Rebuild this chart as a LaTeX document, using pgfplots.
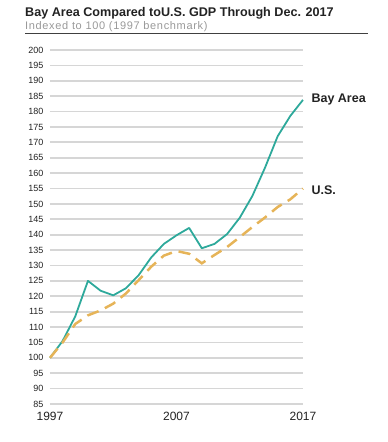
\documentclass[border=0pt]{standalone}
\usepackage{pgfplots}
\pgfplotsset{compat=1.18}
\usepackage{fontspec}
\setmainfont{Liberation Sans}
\definecolor{teal1}{HTML}{2EA99B}
\definecolor{gold1}{HTML}{E6B458}
\definecolor{grid1}{HTML}{D6D6D6}
\definecolor{txt1}{HTML}{222222}
\begin{document}
\begin{tikzpicture}[x=1pt,y=1pt]
\path[use as bounding box] (0,0) rectangle (388,442);
\begin{axis}[
  at={(50pt,38pt)}, anchor=south west,
  scale only axis, width=253pt, height=354pt,
  xmin=1997, xmax=2017, ymin=85, ymax=200,
  xtick={1997,2007,2017},
  ytick={85,90,...,200},
  axis line style={draw=none},
  major tick length=0pt,
  ymajorgrids, grid style={grid1, line width=1.7pt},
  tick label style={text=txt1},
  yticklabel style={font=\fontsize{9}{10}\selectfont, xshift=-3pt},
  xticklabel style={font=\fontsize{12}{13}\selectfont, yshift=-5pt},
  /pgf/number format/assume math mode=true,
  /pgf/number format/1000 sep={},
  clip=false,
]
\addplot[teal1, line width=1.8pt, line join=round] coordinates {
(1997,100) (1998,105.5) (1999,113.5) (2000,125) (2001,121.8) (2002,120.3)
(2003,122.6) (2004,126.8) (2005,132.6) (2006,137) (2007,139.8) (2008,142.2)
(2009,135.6) (2010,137) (2011,140.2) (2012,145.5) (2013,152.6) (2014,161.8)
(2015,172) (2016,178.6) (2017,183.8)};
\addplot[gold1, line width=2.5pt, dash pattern=on 12pt off 7pt] coordinates {
(1997,100) (1998,105) (1999,111) (2000,113.8) (2001,115.4) (2002,117.6)
(2003,120.9) (2004,125.2) (2005,129.6) (2006,133.2) (2007,134.7) (2008,133.8)
(2009,130.7) (2010,133.4) (2011,136) (2012,139.2) (2013,142.5) (2014,145.6)
(2015,149) (2016,151.5) (2017,155)};
\node[anchor=west, font=\bfseries\fontsize{12.5}{13}\selectfont, text=txt1] at (axis cs:2017,183.8) {\hspace{5pt}Bay Area};
\node[anchor=west, font=\bfseries\fontsize{12.5}{13}\selectfont, text=txt1] at (axis cs:2017,154.6) {\hspace{5pt}U.S.};
\end{axis}
\node[anchor=base west, font=\bfseries\fontsize{12.6}{13}\selectfont, text=txt1, inner sep=0pt] at (25,425) {Bay Area Compared toU.S. GDP Through Dec. 2017};
\node[anchor=base west, font=\fontsize{11}{12}\selectfont\addfontfeatures{LetterSpace=6}, text=black!40, inner sep=0pt] at (25,412.8) {Indexed to 100 (1997 benchmark)};
\draw[black!75, line width=1.2pt] (25,408.5) -- (368,408.5);
\end{tikzpicture}
\end{document}
